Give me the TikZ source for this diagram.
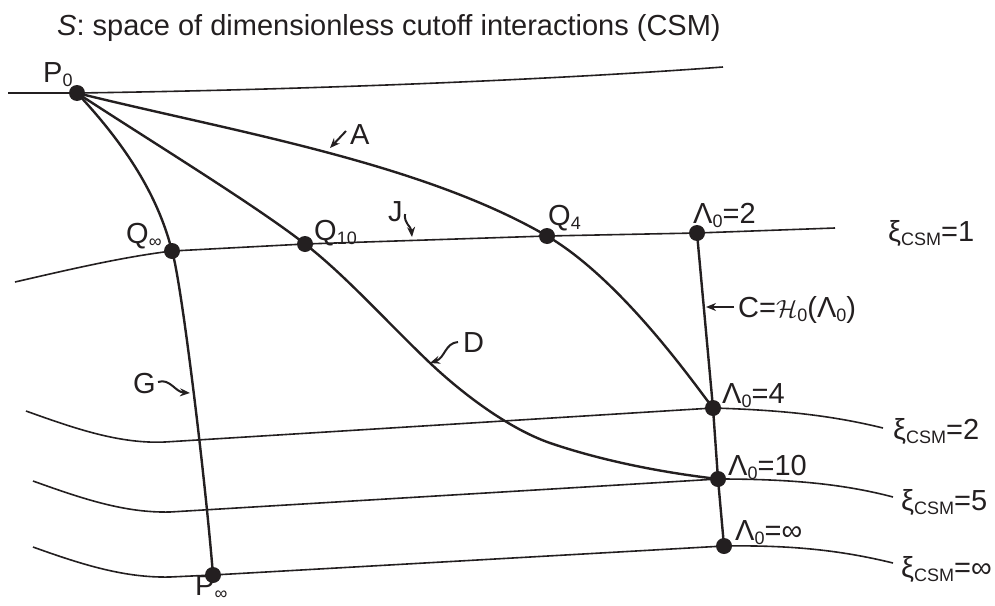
\documentclass[tikz,border=0pt]{standalone}
\usepackage{fontspec}
\setmainfont{Liberation Sans}
\usetikzlibrary{arrows.meta}
\definecolor{ink}{HTML}{231F20}
\newcommand{\lsub}[1]{\raisebox{-4pt}{\fontsize{18}{19}\selectfont #1}}
\begin{document}
\begin{tikzpicture}[x=1pt,y=-1pt,
  dot/.style={circle,fill=ink,inner sep=0pt,minimum size=16pt},
  curve/.style={draw=ink,line width=2.4pt,line join=round},
  xiline/.style={draw=ink,line width=1.6pt,line join=round},
  lbl/.style={anchor=west,inner sep=0pt,text=ink,font=\fontsize{29}{32}\selectfont},
  arr/.style={draw=ink,line width=2pt,-{Stealth[length=10pt,width=8pt]}}]
\useasboundingbox (0,0) rectangle (995,605);
% title
\node[lbl,anchor=base west] (title) at (57,35) {\textit{S}: space of dimensionless cutoff interactions (CSM)};
% dots
\node[dot] (P0) at (77,93) {};
\node[dot] (Qi) at (172,251) {};
\node[dot] (Q10) at (305,244) {};
\node[dot] (Q4) at (547,236) {};
\node[dot] (L2) at (697,233) {};
\node[dot] (L4) at (713,408) {};
\node[dot] (L10) at (718,479) {};
\node[dot] (Li) at (724,546) {};
\node[dot] (Pi) at (213,575) {};
% free ends and way points
\coordinate (t0) at (8,93);
\coordinate (t1) at (723,67);
\coordinate (a0) at (15,282);
\coordinate (a1) at (835,228);
\coordinate (b0) at (26,411);
\coordinate (bm) at (165,442);
\coordinate (b1) at (883,428);
\coordinate (c0) at (33,481);
\coordinate (cm) at (170,512);
\coordinate (c1) at (893,497);
\coordinate (d0) at (33,547);
\coordinate (dm) at (170,577);
\coordinate (d1) at (893,563);
\coordinate (D1) at (430,363);
\coordinate (D2) at (550,443);
% lines of constant xi
\draw[xiline] (t0) -- (P0.center) .. controls (300,90) and (550,80) .. (t1);
\draw[xiline] (a0) .. controls (65,270.5) and (122,257) .. (Qi.center) -- (Q10.center) -- (Q4.center) -- (L2.center) -- (a1);
\draw[xiline] (b0) .. controls (76,429) and (120,444) .. (bm) -- (L4.center) .. controls (780,410) and (830,415) .. (b1);
\draw[xiline] (c0) .. controls (83,499) and (125,513) .. (cm) -- (L10.center) .. controls (785,479) and (840,483) .. (c1);
\draw[xiline] (d0) .. controls (83,565) and (125,578) .. (dm) -- (Pi.center) -- (Li.center) .. controls (790,545) and (840,550) .. (d1);
% trajectories
\draw[curve] (P0.center) .. controls (230,131) and (420,162) .. (Q4.center)
  .. controls (622,280) and (695,385) .. (L4.center);
\draw[curve] (P0.center) .. controls (152,142) and (255,205) .. (Q10.center)
  .. controls (345,275) and (385,320) .. (D1)
  .. controls (465,396) and (510,429) .. (D2)
  .. controls (600,460) and (658,472) .. (L10.center);
\draw[curve] (P0.center) .. controls (140,160) and (162,212) .. (Qi.center)
  .. controls (181,279) and (205,475) .. (Pi.center);
\draw[curve] (L2.center) -- (L4.center) -- (L10.center) -- (Li.center);
% labels
\node[lbl] (lP0) at (43,75) {P\lsub{0}};
\node[lbl] (lQi) at (126,236) {Q\lsub{∞}};
\node[lbl] (lQ10) at (314,233) {Q\lsub{10}};
\node[lbl] (lQ4) at (548,218) {Q\lsub{4}};
\node[lbl] (lL2) at (693,215) {Λ\lsub{0}=2};
\node[lbl] (lL4) at (722,396) {Λ\lsub{0}=4};
\node[lbl] (lL10) at (728,467) {Λ\lsub{0}=10};
\node[lbl] (lLi) at (735,533) {Λ\lsub{0}=∞};
\node[lbl] (x1) at (888,233) {ξ\lsub{CSM}=1};
\node[lbl] (x2) at (893,431) {ξ\lsub{CSM}=2};
\node[lbl] (x5) at (901,502) {ξ\lsub{CSM}=5};
\node[lbl] (xi) at (901,569) {ξ\lsub{CSM}=∞};
\node[lbl] (lPi) at (195,588) {P\lsub{∞}};
\node[lbl] (lC) at (738,310) {C=$\mathcal{H}$\lsub{0}(Λ\lsub{0})};
\node[lbl] (lA) at (350,135) {A};
\node[lbl] (lJ) at (388,212) {J};
\node[lbl] (lD) at (463,343) {D};
\node[lbl] (lG) at (133,384) {G};
% pointer arrows
\draw[arr] (346,131) -- (330,148);
\draw[arr] (734,307) -- (706,307);
\draw[arr] (405,214) .. controls (404,224) and (411,226) .. (412,237);
\draw[arr] (458,342) .. controls (445,343) and (445,358) .. (430,363);
\draw[arr] (158,382) .. controls (170,378) and (175,392) .. (190,393);
\end{tikzpicture}
\end{document}
